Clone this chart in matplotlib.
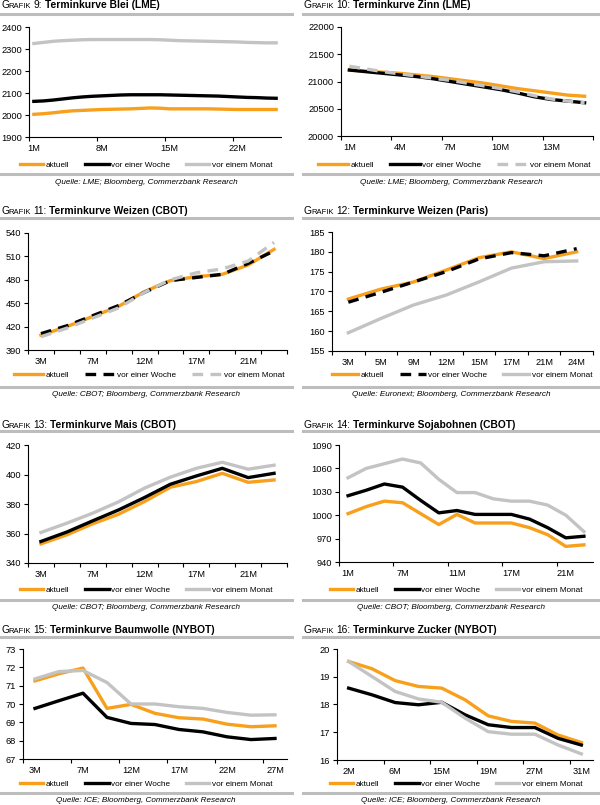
import matplotlib
matplotlib.use("Agg")
import matplotlib.pyplot as plt
import numpy as np

plt.rcParams["font.family"] = ["Liberation Sans", "DejaVu Sans"]

W, H = 600, 805
ORANGE = "#F8A01C"
GREY = "#C3C3C3"
RULE = "#BDBDBD"
SERIES_NAMES = ["aktuell", "vor einer Woche", "vor einem Monat"]

# Grafik 9: Blei (LME), 1M..26M
blei_akt = [2003, 2006, 2010, 2015, 2019, 2021, 2023, 2025, 2026, 2027, 2028, 2030, 2032,
            2031, 2028, 2028, 2028, 2028, 2028, 2027, 2026, 2025, 2025, 2025, 2025, 2025]
blei_woche = [2062, 2064, 2068, 2073, 2078, 2082, 2085, 2087, 2089, 2091, 2092, 2092, 2092,
              2092, 2091, 2090, 2089, 2088, 2087, 2086, 2084, 2082, 2080, 2079, 2077, 2076]
blei_monat = [2325, 2330, 2335, 2338, 2340, 2342, 2343, 2343, 2343, 2343, 2343, 2343, 2343,
              2342, 2340, 2338, 2337, 2336, 2335, 2334, 2333, 2332, 2330, 2329, 2328, 2328]
blei_labels = ["1M", "8M", "15M", "22M"]

# Grafik 10: Zinn (LME), 1M..15M
zinn_akt = [21210, 21190, 21170, 21150, 21120, 21090, 21050, 21010, 20970, 20920, 20870,
            20830, 20790, 20750, 20730]
zinn_woche = [21210, 21180, 21150, 21120, 21090, 21050, 21000, 20950, 20900, 20850, 20790,
              20720, 20670, 20640, 20610]
zinn_monat = [21280, 21230, 21180, 21140, 21100, 21060, 21020, 20970, 20920, 20870, 20810,
              20740, 20680, 20640, 20610]
zinn_labels = ["1M", "4M", "7M", "10M", "13M"]

# Grafik 11: Weizen (CBOT)
weizen_akt = [409, 420, 433, 446, 465, 479, 484, 487, 499, 519]
weizen_woche = [411, 421, 434, 447, 464, 479, 483, 487, 501, 517]
weizen_monat = [407, 418, 431, 444, 464, 480, 489, 494, 504, 528]
weizen_labels = ["3M", "7M", "12M", "17M", "21M"]

# Grafik 12: Weizen (Paris)
paris_akt = [168.1, 170.6, 172.4, 175.4, 178.5, 180.0, 178.3, 180.0]
paris_woche = [167.3, 169.8, 172.4, 175.0, 178.2, 179.8, 179.0, 180.8]
paris_monat = [159.6, 163.2, 166.6, 169.1, 172.4, 175.9, 177.5, 177.7]
paris_labels = ["3M", "5M", "9M", "12M", "15M", "17M", "21M", "24M"]

# Grafik 13: Mais (CBOT)
mais_akt = [353.0, 359.1, 366.6, 373.1, 381.7, 391.4, 395.2, 400.8, 394.7, 396.3]
mais_woche = [354.6, 361.0, 368.6, 376.0, 384.4, 393.4, 399.0, 404.2, 397.9, 400.8]
mais_monat = [360.7, 367.0, 373.8, 381.5, 390.8, 398.2, 404.2, 408.3, 403.6, 406.3]
mais_labels = ["3M", "7M", "12M", "17M", "21M"]

# Grafik 14: Sojabohnen (CBOT)
soja_akt = [1002, 1011, 1018, 1016, 1002, 988, 1001, 990, 990, 990, 984, 975, 960, 962]
soja_woche = [1025, 1032, 1040, 1036, 1019, 1003, 1006, 1001, 1001, 1001, 995, 984, 971, 973]
soja_monat = [1048, 1060, 1066, 1072, 1067, 1046, 1029, 1029, 1021, 1018, 1018, 1013, 1000, 979]
soja_labels = ["1M", "7M", "11M", "17M", "21M"]

# Grafik 15: Baumwolle (NYBOT)
baum_akt = [71.26, 71.65, 71.96, 69.76, 69.98, 69.49, 69.25, 69.18, 68.90, 68.76, 68.81]
baum_woche = [69.76, 70.18, 70.59, 69.27, 68.94, 68.88, 68.61, 68.48, 68.21, 68.06, 68.12]
baum_monat = [71.37, 71.77, 71.83, 71.17, 70.00, 70.00, 69.85, 69.76, 69.54, 69.39, 69.41]
baum_labels = ["3M", "7M", "12M", "17M", "22M", "27M"]

# Grafik 16: Zucker (NYBOT)
zucker_akt = [19.55, 19.29, 18.86, 18.65, 18.59, 18.17, 17.59, 17.39, 17.33, 16.90, 16.63]
zucker_woche = [18.59, 18.35, 18.07, 17.99, 18.08, 17.63, 17.27, 17.17, 17.17, 16.78, 16.54]
zucker_monat = [19.55, 19.01, 18.47, 18.20, 18.08, 17.51, 17.02, 16.93, 16.93, 16.54, 16.22]
zucker_labels = ["2M", "6M", "15M", "19M", "27M", "31M"]


def px_axes(fig, x0, y0, x1, y1):
    return fig.add_axes([x0 / W, 1 - y1 / H, (x1 - x0) / W, (y1 - y0) / H])


def draw_title(fig, x, y, num, text):
    # "GRAFIK" in small caps, then the bold title
    renderer = fig.canvas.get_renderer()
    pieces = [("G", 7.4, "normal", -1.0), ("RAFIK", 5.5, "normal", 2.8),
              (f"{num}:", 7.4, "normal", 2.8), (text, 7.4, "bold", 0)]
    for s, size, weight, gap in pieces:
        t = fig.text(x / W, 1 - y / H, s, fontsize=size, fontweight=weight, va="baseline")
        x += t.get_window_extent(renderer).width + gap


def draw_rule(fig, x0, x1, y):
    fig.add_artist(plt.Line2D([x0 / W, x1 / W], [1 - y / H, 1 - y / H],
                              transform=fig.transFigure, color=RULE, lw=2.2))


def draw_panel(fig, box, series, dashed, yticks, labels, step, tick_step, legend_pos,
               handlelength=2.9):
    ax = px_axes(fig, *box)
    colors = [ORANGE, "black", GREY]
    handles = []
    for vals, color, dash, name in zip(series, colors, dashed, SERIES_NAMES):
        x = np.arange(len(vals))
        line, = ax.plot(x, vals, color=color, lw=2.4, label=name,
                        solid_joinstyle="round", dash_capstyle="butt")
        if dash:
            line.set_dashes((3.2, 2.2))
        handles.append(line)
    n = len(series[0])
    ax.set_xlim(-0.5, n - 0.5)
    ax.set_ylim(yticks[0], yticks[-1])
    ax.set_yticks(yticks)
    ax.set_xticks(np.arange(0, n, step)[:len(labels)])
    ax.set_xticklabels(labels)
    ax.set_xticks(np.arange(-0.5, n, tick_step), minor=True)
    ax.tick_params(axis="x", which="major", length=0, pad=5, labelsize=6.7)
    ax.tick_params(axis="x", which="minor", length=3, width=0.8, direction="out")
    ax.tick_params(axis="y", length=3, width=0.8, pad=2, labelsize=6.7)
    for side in ["top", "right"]:
        ax.spines[side].set_visible(False)
    for side in ["left", "bottom"]:
        ax.spines[side].set_linewidth(0.8)
    ax.patch.set_alpha(0)
    cx, cy = legend_pos
    ax.legend(handles=handles, loc="center", bbox_to_anchor=(cx / W, 1 - cy / H),
              bbox_transform=fig.transFigure, ncol=3, frameon=False, fontsize=5.9,
              handlelength=handlelength, handletextpad=0.3, columnspacing=1.9,
              borderpad=0, borderaxespad=0)
    return ax


def main():
    fig = plt.figure(figsize=(W / 100, H / 100), dpi=100)

    rows = [
        # title baseline, top rule, legend y, bottom rule, source y
        (8.5, 14.5, 165, 174, 182),
        (214, 218.5, 375, 386.5, 395),
        (427.5, 431, 590, 599.5, 607),
        (633, 637, 784, 793, 800),
    ]
    cols = [(0, 292, 146), (303, 598, 451)]
    titles = [
        (9, "Terminkurve Blei (LME)", "Quelle: LME; Bloomberg, Commerzbank Research"),
        (10, "Terminkurve Zinn (LME)", "Quelle: LME; Bloomberg, Commerzbank Research"),
        (11, "Terminkurve Weizen (CBOT)", "Quelle: CBOT; Bloomberg, Commerzbank Research"),
        (12, "Terminkurve Weizen (Paris)", "Quelle: Euronext; Bloomberg, Commerzbank Research"),
        (13, "Terminkurve Mais (CBOT)", "Quelle: CBOT; Bloomberg, Commerzbank Research"),
        (14, "Terminkurve Sojabohnen (CBOT)", "Quelle: CBOT; Bloomberg, Commerzbank Research"),
        (15, "Terminkurve Baumwolle (NYBOT)", "Quelle: ICE; Bloomberg, Commerzbank Research"),
        (16, "Terminkurve Zucker (NYBOT)", "Quelle: ICE; Bloomberg, Commerzbank Research"),
    ]

    for i, (num, title, source) in enumerate(titles):
        r, c = divmod(i, 2)
        tb, rule_top, _, rule_bot, src_y = rows[r]
        x0, x1, xc = cols[c]
        draw_title(fig, x0 + 1, tb, num, title)
        draw_rule(fig, x0, x1, rule_top)
        draw_rule(fig, x0, x1, rule_bot)
        fig.text(xc / W, 1 - src_y / H, source, fontsize=5.9, style="italic",
                 ha="center", va="center")

    leg = [rows[r][2] for r in range(4)]

    draw_panel(fig, (29, 27, 281, 137), [blei_akt, blei_woche, blei_monat],
               [False, False, False], np.arange(1900, 2401, 100), blei_labels, 7, 7,
               (146, leg[0]))
    draw_panel(fig, (341, 27, 593, 136), [zinn_akt, zinn_woche, zinn_monat],
               [False, False, True], np.arange(20000, 22001, 500), zinn_labels, 3, 3,
               (454, leg[0]), handlelength=3.7)
    draw_panel(fig, (28, 233, 287, 350), [weizen_akt, weizen_woche, weizen_monat],
               [False, True, True], np.arange(390, 541, 30), weizen_labels, 2, 1,
               (149, leg[1]), handlelength=3.6)
    draw_panel(fig, (332, 232, 593, 351), [paris_akt, paris_woche, paris_monat],
               [False, True, False], np.arange(155, 186, 5), paris_labels, 1, 1,
               (462, leg[1]), handlelength=3.2)
    draw_panel(fig, (28, 445, 287, 563), [mais_akt, mais_woche, mais_monat],
               [False, False, False], np.arange(340, 421, 20), mais_labels, 2, 1,
               (146, leg[2]))
    draw_panel(fig, (339, 445, 593, 562), [soja_akt, soja_woche, soja_monat],
               [False, False, False], np.arange(940, 1091, 30), soja_labels, 3, 3,
               (456, leg[2]))
    draw_panel(fig, (23, 649, 287, 759), [baum_akt, baum_woche, baum_monat],
               [False, False, False], np.arange(67, 74, 1), baum_labels, 2, 2,
               (146, leg[3]))
    draw_panel(fig, (337, 649, 593, 760), [zucker_akt, zucker_woche, zucker_monat],
               [False, False, False], np.arange(16, 21, 1), zucker_labels, 2, 2,
               (456, leg[3]))

    fig.savefig("out.png", dpi=100)


if __name__ == "__main__":
    main()
